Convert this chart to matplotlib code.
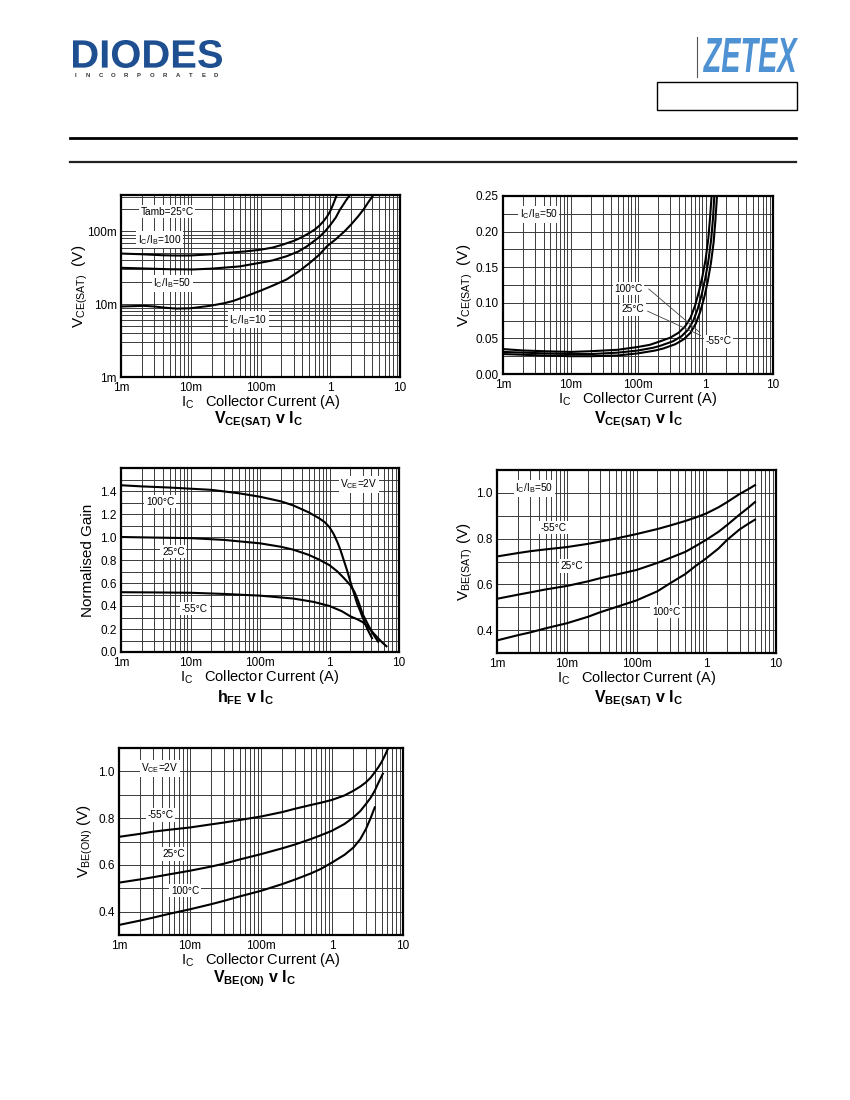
import numpy as np
import matplotlib
matplotlib.use("Agg")
import matplotlib.pyplot as plt
from matplotlib.ticker import FixedLocator, MultipleLocator, NullFormatter, LogLocator, FormatStrFormatter
from matplotlib.lines import Line2D
from matplotlib.patches import Rectangle, PathPatch
from matplotlib.textpath import TextPath
from matplotlib.font_manager import FontProperties
from matplotlib.transforms import Affine2D, IdentityTransform

plt.rcParams['font.family'] = ['Liberation Sans', 'DejaVu Sans']
plt.rcParams['mathtext.fontset'] = 'custom'
plt.rcParams['mathtext.rm'] = 'Liberation Sans'
plt.rcParams['mathtext.it'] = 'Liberation Sans:italic'
plt.rcParams['mathtext.bf'] = 'Liberation Sans:bold'

W, H = 850, 1100

# ---- data ----
# VCE(SAT) v IC, Tamb=25C (log-log)
vce_ic_100 = [1e-3, 2e-3, 4e-3, 6.3e-3, 0.01, 0.02, 0.033, 0.06, 0.1, 0.15, 0.2, 0.3, 0.4, 0.5,
              0.6, 0.7, 0.8, 0.9, 1.0, 1.1, 1.24]
vce_v_100 = [0.0496, 0.0485, 0.047, 0.0466, 0.0467, 0.0485, 0.0507, 0.053, 0.056, 0.060, 0.065,
             0.074, 0.084, 0.095, 0.106, 0.12, 0.138, 0.16, 0.19, 0.235, 0.316]
vce_ic_50 = [1e-3, 2e-3, 5e-3, 0.0109, 0.02, 0.05, 0.098, 0.15, 0.237, 0.35, 0.46, 0.6, 0.7,
             0.84, 1.0, 1.2, 1.37, 1.53, 1.7, 1.91]
vce_v_50 = [0.0316, 0.031, 0.0302, 0.030, 0.0308, 0.033, 0.037, 0.040, 0.0456, 0.053, 0.062,
            0.075, 0.084, 0.10, 0.122, 0.155, 0.197, 0.231, 0.27, 0.316]
vce_ic_10 = [1e-3, 1.5e-3, 2.09e-3, 3e-3, 4.5e-3, 6.3e-3, 0.01, 0.0189, 0.03, 0.0408, 0.06, 0.098,
             0.15, 0.237, 0.35, 0.51, 0.7, 0.89, 1.2, 1.6, 2.0, 2.5, 3.0, 3.5, 4.16]
vce_v_10 = [0.0093, 0.0094, 0.0095, 0.0093, 0.0089, 0.0087, 0.0088, 0.0095, 0.0103, 0.0111,
            0.0127, 0.0152, 0.018, 0.0219, 0.028, 0.037, 0.048, 0.062, 0.078, 0.10, 0.125,
            0.16, 0.20, 0.25, 0.316]

# VCE(SAT) v IC, IC/IB=50 (linear y)
vt_ic_100 = [1e-3, 2e-3, 4e-3, 0.01, 0.02, 0.05, 0.1, 0.15, 0.2, 0.3, 0.4, 0.5, 0.6, 0.7, 0.8,
             0.9, 1.0, 1.1, 1.17, 1.23]
vt_v_100 = [0.035, 0.033, 0.032, 0.031, 0.032, 0.034, 0.038, 0.041, 0.045, 0.051, 0.058, 0.067,
            0.079, 0.096, 0.116, 0.137, 0.16, 0.19, 0.22, 0.25]
vt_ic_25 = [1e-3, 2e-3, 4e-3, 0.01, 0.02, 0.05, 0.1, 0.17, 0.22, 0.33, 0.44, 0.55, 0.66, 0.77,
            0.88, 0.99, 1.1, 1.21, 1.29, 1.35]
vt_v_25 = [0.031, 0.030, 0.029, 0.028, 0.028, 0.030, 0.033, 0.037, 0.040, 0.046, 0.053, 0.062,
           0.075, 0.092, 0.112, 0.134, 0.158, 0.188, 0.218, 0.25]
vt_ic_m55 = [1e-3, 2e-3, 4e-3, 0.01, 0.02, 0.05, 0.1, 0.18, 0.24, 0.36, 0.48, 0.6, 0.72, 0.84,
             0.96, 1.08, 1.2, 1.32, 1.4, 1.48]
vt_v_m55 = [0.028, 0.027, 0.026, 0.025, 0.025, 0.026, 0.029, 0.033, 0.036, 0.042, 0.049, 0.058,
            0.071, 0.088, 0.108, 0.130, 0.155, 0.185, 0.215, 0.25]

# hFE v IC, VCE=2V
hfe_ic_100 = [1e-3, 2e-3, 5e-3, 0.01, 0.02, 0.05, 0.1, 0.2, 0.3, 0.5, 0.7, 0.85, 1.0, 1.15, 1.3,
              1.45, 1.6, 1.8, 2.0, 2.25, 2.5, 2.75, 3.0, 3.5, 4.1]
hfe_g_100 = [1.45, 1.44, 1.43, 1.42, 1.41, 1.38, 1.35, 1.31, 1.275, 1.215, 1.165, 1.13, 1.085,
             1.025, 0.955, 0.88, 0.80, 0.705, 0.61, 0.51, 0.42, 0.36, 0.30, 0.20, 0.12]
hfe_ic_25 = [1e-3, 3e-3, 0.01, 0.03, 0.1, 0.2, 0.3, 0.5, 0.7, 1.0, 1.3, 1.6, 2.0, 2.3, 2.6, 3.0,
             3.5, 4.2, 5.0]
hfe_g_25 = [1.0, 0.995, 0.99, 0.975, 0.945, 0.915, 0.89, 0.845, 0.805, 0.755, 0.70, 0.645, 0.58,
            0.52, 0.44, 0.33, 0.25, 0.16, 0.09]
hfe_ic_m55 = [1e-3, 3e-3, 0.01, 0.03, 0.1, 0.3, 0.6, 1.0, 1.5, 2.0, 2.5, 3.0, 3.5, 4.2, 5.0,
              5.8, 6.6]
hfe_g_m55 = [0.52, 0.518, 0.515, 0.505, 0.49, 0.465, 0.435, 0.40, 0.355, 0.31, 0.285, 0.26,
             0.225, 0.17, 0.12, 0.08, 0.05]

# VBE(SAT) v IC, IC/IB=50
vbs_ic = [1e-3, 2e-3, 3e-3, 5e-3, 0.01, 0.02, 0.03, 0.05, 0.1, 0.2, 0.3, 0.5, 0.7, 1.0, 1.5,
          2.0, 3.0, 4.0, 5.0]
vbs_m55 = [0.722, 0.737, 0.745, 0.753, 0.763, 0.777, 0.787, 0.800, 0.820, 0.842, 0.857, 0.877,
           0.892, 0.910, 0.937, 0.960, 0.995, 1.016, 1.034]
vbs_25 = [0.537, 0.555, 0.565, 0.578, 0.593, 0.613, 0.627, 0.642, 0.663, 0.694, 0.715, 0.742,
          0.767, 0.795, 0.830, 0.860, 0.905, 0.935, 0.960]
vbs_100 = [0.355, 0.378, 0.390, 0.408, 0.430, 0.458, 0.478, 0.500, 0.530, 0.570, 0.604, 0.645,
           0.680, 0.714, 0.757, 0.795, 0.840, 0.865, 0.883]

# VBE(ON) v IC, VCE=2V
vbo_ic_m55 = [1e-3, 2e-3, 3e-3, 5e-3, 0.01, 0.02, 0.03, 0.05, 0.1, 0.2, 0.3, 0.5, 0.7, 1.0, 1.5,
              2.0, 2.5, 3.0, 3.5, 4.0, 4.5, 5.0, 5.6, 6.2]
vbo_v_m55 = [0.72, 0.733, 0.742, 0.75, 0.76, 0.7735, 0.781, 0.792, 0.807, 0.826, 0.84, 0.856,
             0.866, 0.878, 0.897, 0.917, 0.935, 0.953, 0.973, 0.996, 1.018, 1.04, 1.07, 1.10]
vbo_ic_25 = [1e-3, 2e-3, 3e-3, 5e-3, 0.01, 0.02, 0.03, 0.05, 0.1, 0.2, 0.3, 0.5, 0.7, 1.0, 1.5,
             2.0, 2.5, 3.0, 3.5, 4.0, 4.5, 5.2]
vbo_v_25 = [0.524, 0.538, 0.547, 0.559, 0.575, 0.593, 0.605, 0.623, 0.646, 0.671, 0.687, 0.710,
            0.727, 0.746, 0.775, 0.803, 0.83, 0.86, 0.887, 0.917, 0.951, 0.99]
vbo_ic_100 = [1e-3, 2e-3, 3e-3, 5e-3, 0.01, 0.02, 0.03, 0.05, 0.1, 0.2, 0.3, 0.5, 0.7, 1.0, 1.5,
              2.0, 2.5, 3.0, 3.5, 4.0]
vbo_v_100 = [0.343, 0.362, 0.374, 0.39, 0.41, 0.432, 0.446, 0.465, 0.489, 0.518, 0.537, 0.563,
             0.583, 0.61, 0.643, 0.674, 0.71, 0.753, 0.80, 0.846]

x_ticks = [1e-3, 1e-2, 1e-1, 1, 10]
x_ticklabels = ['1m', '10m', '100m', '1', '10']

fig = plt.figure(figsize=(8.5, 11), dpi=100)

GRID = dict(color='#3a3a3a', linewidth=0.7)
BOX = dict(facecolor='white', edgecolor='none', pad=1.2)
LW = 1.5
LBL = dict(fontsize=7.3, ha='center', va='center', bbox=BOX, zorder=1.8)


def panel(x0, y0, x1, y1):
    ax = fig.add_axes([x0 / W, 1 - y1 / H, (x1 - x0) / W, (y1 - y0) / H])
    ax.set_xscale('log')
    ax.set_xlim(1e-3, 10)
    ax.xaxis.set_major_locator(FixedLocator(x_ticks))
    ax.set_xticklabels(x_ticklabels)
    ax.xaxis.set_minor_locator(LogLocator(base=10, subs=np.arange(2, 10)))
    ax.xaxis.set_minor_formatter(NullFormatter())
    ax.tick_params(which='both', length=0, labelsize=8.5)
    ax.tick_params(axis='x', pad=3.5)
    ax.tick_params(axis='y', pad=3)
    ax.grid(True, which='both', **GRID)
    for s in ax.spines.values():
        s.set_linewidth(1.6)
    ax.set_xlabel(r'$\mathregular{I_C}$   Collector Current (A)', fontsize=10.5, labelpad=-0.5)
    return ax


def ylab(ax, s, xc):
    ax.set_ylabel(s, fontsize=11)
    ax.yaxis.set_label_coords(xc, 0.5)
    ax.yaxis.label.set_verticalalignment('center')


def title(xc, yb, s):
    fig.text(xc / W, 1 - yb / H, s, ha='center', va='baseline', fontsize=11.5)


# ---- panel 1 ----
ax1 = panel(121, 195, 400, 377)
ax1.set_yscale('log')
ax1.set_ylim(1e-3, 0.316)
ax1.yaxis.set_major_locator(FixedLocator([1e-3, 1e-2, 1e-1]))
ax1.set_yticklabels(['1m', '10m', '100m'])
ax1.yaxis.set_minor_locator(LogLocator(base=10, subs=np.arange(2, 10)))
ax1.yaxis.set_minor_formatter(NullFormatter())
ax1.tick_params(which='both', length=0)
ax1.plot(vce_ic_100, vce_v_100, 'k', lw=LW)
ax1.plot(vce_ic_50, vce_v_50, 'k', lw=LW)
ax1.plot(vce_ic_10, vce_v_10, 'k', lw=LW)
ax1.text(4.57e-3, 0.186, 'Tamb=25°C', **LBL)
ax1.text(3.6e-3, 0.0764, r'$\mathregular{I_C/I_B}$=100', **LBL)
ax1.text(5.4e-3, 0.0195, r'$\mathregular{I_C/I_B}$=50', **LBL)
ax1.text(0.067, 0.0061, r'$\mathregular{I_C/I_B}$=10', **LBL)
ylab(ax1, r'$\mathregular{V_{CE(SAT)}}$  (V)', -0.147)
title(258, 423, r'$\mathbf{V_{CE(SAT)}}$ $\mathbf{v}$ $\mathbf{I_C}$')

# ---- panel 2 ----
ax2 = panel(503, 196, 773, 374)
ax2.set_ylim(0, 0.25)
ax2.yaxis.set_major_locator(MultipleLocator(0.05))
ax2.yaxis.set_minor_locator(MultipleLocator(0.025))
ax2.yaxis.set_major_formatter(FormatStrFormatter('%.2f'))
ax2.plot(vt_ic_100, vt_v_100, 'k', lw=LW)
ax2.plot(vt_ic_25, vt_v_25, 'k', lw=LW)
ax2.plot(vt_ic_m55, vt_v_m55, 'k', lw=LW)
ax2.text(3.4e-3, 0.224, r'$\mathregular{I_C/I_B}$=50', **LBL)
ax2.annotate('', xy=(0.88, 0.056), xytext=(0.134, 0.122),
             arrowprops=dict(arrowstyle='-', lw=0.6, color='#444444'))
ax2.annotate('', xy=(0.93, 0.0524), xytext=(0.127, 0.0899),
             arrowprops=dict(arrowstyle='-', lw=0.6, color='#444444'))
ax2.text(0.072, 0.120, '100°C', **LBL)
ax2.text(0.0834, 0.0908, '25°C', **LBL)
ax2.text(1.55, 0.046, '-55°C', **LBL)
ylab(ax2, r'$\mathregular{V_{CE(SAT)}}$  (V)', -0.141)
title(638, 423, r'$\mathbf{V_{CE(SAT)}}$ $\mathbf{v}$ $\mathbf{I_C}$')

# ---- panel 3 ----
ax3 = panel(121, 468, 399, 652)
ax3.set_ylim(0, 1.6)
ax3.yaxis.set_major_locator(FixedLocator([0, 0.2, 0.4, 0.6, 0.8, 1.0, 1.2, 1.4]))
ax3.yaxis.set_minor_locator(MultipleLocator(0.1))
ax3.yaxis.set_major_formatter(FormatStrFormatter('%.1f'))
ax3.plot(hfe_ic_100, hfe_g_100, 'k', lw=LW)
ax3.plot(hfe_ic_25, hfe_g_25, 'k', lw=LW)
ax3.plot(hfe_ic_m55, hfe_g_m55, 'k', lw=LW)
ax3.text(2.65, 1.458, r'$\mathregular{V_{CE}}$=2V', **LBL)
ax3.text(3.64e-3, 1.307, '100°C', **LBL)
ax3.text(5.66e-3, 0.871, '25°C', **LBL)
ax3.text(0.0116, 0.378, '-55°C', **LBL)
ylab(ax3, 'Normalised Gain', -0.119)
title(245, 702, r'$\mathbf{h_{FE}}$ $\mathbf{v}$ $\mathbf{I_C}$')

# ---- panel 4 ----
ax4 = panel(497, 470, 776, 653)
ax4.set_ylim(0.3, 1.1)
ax4.yaxis.set_major_locator(FixedLocator([0.4, 0.6, 0.8, 1.0]))
ax4.yaxis.set_minor_locator(MultipleLocator(0.1))
ax4.yaxis.set_major_formatter(FormatStrFormatter('%.1f'))
ax4.plot(vbs_ic, vbs_m55, 'k', lw=LW)
ax4.plot(vbs_ic, vbs_25, 'k', lw=LW)
ax4.plot(vbs_ic, vbs_100, 'k', lw=LW)
ax4.text(3.43e-3, 1.02, r'$\mathregular{I_C/I_B}$=50', **LBL)
ax4.text(6.4e-3, 0.847, '-55°C', **LBL)
ax4.text(0.0118, 0.68, '25°C', **LBL)
ax4.text(0.265, 0.48, '100°C', **LBL)
ylab(ax4, r'$\mathregular{V_{BE(SAT)}}$ (V)', -0.115)
title(638, 702, r'$\mathbf{V_{BE(SAT)}}$ $\mathbf{v}$ $\mathbf{I_C}$')

# ---- panel 5 ----
ax5 = panel(119, 748, 403, 935)
ax5.set_ylim(0.3, 1.1)
ax5.yaxis.set_major_locator(FixedLocator([0.4, 0.6, 0.8, 1.0]))
ax5.yaxis.set_minor_locator(MultipleLocator(0.1))
ax5.yaxis.set_major_formatter(FormatStrFormatter('%.1f'))
ax5.plot(vbo_ic_m55, vbo_v_m55, 'k', lw=LW)
ax5.plot(vbo_ic_25, vbo_v_25, 'k', lw=LW)
ax5.plot(vbo_ic_100, vbo_v_100, 'k', lw=LW)
ax5.text(3.78e-3, 1.013, r'$\mathregular{V_{CE}}$=2V', **LBL)
ax5.text(3.86e-3, 0.813, '-55°C', **LBL)
ax5.text(5.82e-3, 0.647, '25°C', **LBL)
ax5.text(8.5e-3, 0.49, '100°C', **LBL)
ylab(ax5, r'$\mathregular{V_{BE(ON)}}$ (V)', -0.12)
title(255, 982, r'$\mathbf{V_{BE(ON)}}$ $\mathbf{v}$ $\mathbf{I_C}$')


# ---- header ----
def logo_text(s, x0, y0, x1, y1, color, prop):
    tp = TextPath((0, 0), s, size=10, prop=prop)
    ext = tp.get_extents()
    tr = (Affine2D().translate(-ext.x0, -ext.y0)
          .scale((x1 - x0) / ext.width, (y1 - y0) / ext.height)
          .translate(x0, H - y1))
    fig.add_artist(PathPatch(tr.transform_path(tp), facecolor=color, edgecolor='none',
                             transform=IdentityTransform()))


logo_text('DIODES', 73, 40, 222, 68, '#1d4f91',
          FontProperties(family='Liberation Sans', weight='bold'))
for ch, xp in zip('INCORPORATED', np.linspace(75, 216, 12)):
    fig.text(xp / W, 1 - 77 / H, ch, fontsize=4.3, fontweight='bold', color='#333333',
             ha='center', va='baseline')
logo_text('ZETEX', 703, 38, 798, 72, '#4f92d3',
          FontProperties(family='Liberation Sans', weight='bold', style='italic'))
fig.add_artist(Line2D([697 / W, 697 / W], [1 - 37 / H, 1 - 77 / H], color='#555555', lw=0.8))
fig.add_artist(Rectangle((657 / W, 1 - 110 / H), 140 / W, 28 / H, fill=False,
                         edgecolor='black', lw=1.0, transform=fig.transFigure))
fig.add_artist(Line2D([70 / W, 796 / W], [1 - 138 / H, 1 - 138 / H], color='black', lw=2.0))
fig.add_artist(Line2D([70 / W, 796 / W], [1 - 162 / H, 1 - 162 / H], color='#222222', lw=1.6))

fig.savefig('out.png', dpi=100)
